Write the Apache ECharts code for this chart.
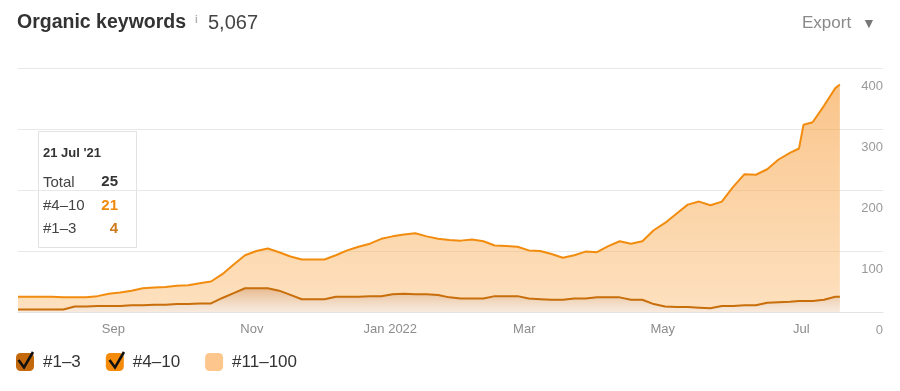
<!DOCTYPE html>
<html>
<head>
<meta charset="utf-8">
<script src="https://cdn.jsdelivr.net/npm/echarts@6/dist/echarts.min.js"></script>
<style>
html,body{margin:0;padding:0;background:#fff;}
#chart{width:900px;height:391px;}
</style>
</head>
<body>
<div id="chart"></div>
<script>
// ---- data ----
const dates = [
 '2021-07-21','2021-07-26','2021-07-31','2021-08-05','2021-08-10','2021-08-15','2021-08-20','2021-08-25','2021-08-30',
 '2021-09-04','2021-09-09','2021-09-14','2021-09-19','2021-09-24','2021-09-29','2021-10-04','2021-10-09','2021-10-14',
 '2021-10-19','2021-10-24','2021-10-29','2021-11-03','2021-11-08','2021-11-13','2021-11-18','2021-11-23','2021-11-28',
 '2021-12-03','2021-12-08','2021-12-13','2021-12-18','2021-12-23','2021-12-28','2022-01-02','2022-01-07','2022-01-12',
 '2022-01-17','2022-01-22','2022-01-27','2022-02-01','2022-02-06','2022-02-11','2022-02-16','2022-02-21','2022-02-26',
 '2022-03-03','2022-03-08','2022-03-13','2022-03-18','2022-03-23','2022-03-28','2022-04-02','2022-04-07','2022-04-12',
 '2022-04-17','2022-04-22','2022-04-27','2022-05-02','2022-05-07','2022-05-12','2022-05-17','2022-05-22','2022-05-27',
 '2022-06-01','2022-06-06','2022-06-11','2022-06-16','2022-06-21','2022-06-26','2022-06-30','2022-07-02','2022-07-06',
 '2022-07-11','2022-07-16','2022-07-18'
];
const pos1to3 = [
 4,4,4,4,4,9,9,10,10,
 10,11,11,12,12,13,13,14,14,
 23,31,39,39,39,35,28,21,21,
 21,25,25,25,26,26,29,30,29,
 29,28,24,22,22,22,26,26,26,
 22,21,20,20,22,22,24,24,24,
 20,20,13,9,8,8,7,6,10,
 10,11,11,15,16,17,18,18,18,
 20,25,25
];
const pos4to10 = [
 21,21,21,21,20,15,15,16,20,
 22,24,28,28,29,30,31,33,36,
 39,47,54,61,65,63,63,65,65,
 65,68,76,82,86,94,95,97,100,
 95,92,94,95,97,94,83,82,81,
 79,79,75,69,71,77,74,84,92,
 92,96,121,137,153,168,174,169,171,
 195,215,214,219,234,244,250,289,293,
 318,342,348
];
const pos11to100 = []; // switched off in the legend, not drawn
const seriesNames = ['#1–3', '#4–10', '#11–100'];
const tooltipDate = "21 Jul '21";
const headline = 'Organic keywords';
const headlineCount = '5,067';
const axisStart = '2021-07-21';
const axisEnd = '2022-08-06';
const yTicks = [0, 100, 200, 300, 400];
const monthNames = ['Jan','Feb','Mar','Apr','May','Jun','Jul','Aug','Sep','Oct','Nov','Dec'];

// ---- chart ----
const FONT = '"Liberation Sans", Arial, Helvetica, sans-serif';
const chart = echarts.init(document.getElementById('chart'), null, {renderer: 'canvas'});

function pairs(vals) { return vals.map((v, i) => [dates[i], v]); }

const total0 = pos1to3[0] + pos4to10[0];

const option = {
  animation: false,
  textStyle: {fontFamily: FONT},
  grid: {left: 18, right: 17, top: 68, bottom: 79},
  xAxis: {
    type: 'time',
    min: axisStart,
    max: axisEnd,
    splitNumber: 12,
    axisLine: {lineStyle: {color: '#e3e3e3', width: 1}},
    axisTick: {show: false},
    splitLine: {show: false},
    axisLabel: {
      color: '#8c8c8c', fontSize: 13, fontFamily: FONT, margin: 11,
      showMinLabel: false, showMaxLabel: false,
      formatter: function (val) {
        const d = new Date(val);
        if (d.getDate() !== 1) return '';
        const m = d.getMonth();
        if (m % 2 !== 0) return '';
        return m === 0 ? monthNames[m] + ' ' + d.getFullYear() : monthNames[m];
      }
    }
  },
  yAxis: {
    type: 'value',
    position: 'right',
    min: yTicks[0],
    max: yTicks[yTicks.length - 1],
    interval: 100,
    axisLine: {show: false},
    axisTick: {show: false},
    splitLine: {lineStyle: {color: '#e8e8e8', width: 1}},
    axisLabel: {
      inside: true, margin: 0, color: '#9a9a9a', fontSize: 13, fontFamily: FONT,
      verticalAlign: 'top', lineHeight: 15, padding: [11, 0, 0, 0]
    }
  },
  legend: {
    left: 16, top: 353, padding: 0,
    itemWidth: 18, itemHeight: 18, itemGap: 25,
    icon: 'roundRect',
    selectedMode: false,
    textStyle: {color: '#333', fontSize: 17, fontFamily: FONT, padding: [0, 0, 0, 4]},
    data: [
      {name: seriesNames[0], itemStyle: {color: '#c4690b', borderWidth: 0}},
      {name: seriesNames[1], itemStyle: {color: '#f58b0a', borderWidth: 0}},
      {name: seriesNames[2], itemStyle: {color: '#fdc68c', borderWidth: 0}}
    ]
  },
  series: [
    {
      name: seriesNames[0], type: 'line', stack: 'kw', symbol: 'none',
      data: pairs(pos1to3),
      lineStyle: {color: '#c86e0a', width: 2},
      itemStyle: {color: '#c86e0a'},
      areaStyle: {
        color: new echarts.graphic.LinearGradient(0, 0, 0, 1, [
          {offset: 0, color: 'rgba(205,112,22,0.68)'},
          {offset: 1, color: 'rgba(212,140,70,0.25)'}
        ])
      },
      z: 3
    },
    {
      name: seriesNames[1], type: 'line', stack: 'kw', symbol: 'none',
      data: pairs(pos4to10),
      lineStyle: {color: '#f28c0f', width: 2},
      itemStyle: {color: '#f28c0f'},
      areaStyle: {
        color: new echarts.graphic.LinearGradient(0, 0, 0, 1, [
          {offset: 0, color: 'rgba(246,156,58,0.85)'},
          {offset: 1, color: 'rgba(251,186,110,0.64)'}
        ])
      },
      z: 2
    },
    {
      name: seriesNames[2], type: 'line', symbol: 'none',
      data: pairs(pos11to100),
      itemStyle: {color: '#fdc68c'}
    }
  ],
  graphic: [
    {type: 'text', left: 17, top: 13, style: {text: headline, font: 'bold 19.5px ' + FONT, fill: '#333'}},
    {type: 'text', left: 195, top: 15, style: {text: 'i', font: 'bold 10px ' + FONT, fill: '#b0b0b0'}},
    {type: 'text', left: 208, top: 13, style: {text: headlineCount, font: '20px ' + FONT, fill: '#444'}},
    {type: 'text', left: 802, top: 15, style: {text: 'Export', font: '17px ' + FONT, fill: '#8a8a8a'}},
    {type: 'text', left: 862, top: 17, style: {text: '▼', font: '14px ' + FONT, fill: '#777'}},
    // checkmarks on the legend boxes
    {type: 'polyline', z: 100, shape: {points: [[18.5, 360], [24, 367.5], [33, 352]]}, style: {stroke: '#111', lineWidth: 2.6, fill: null, lineJoin: 'miter'}},
    {type: 'polyline', z: 100, shape: {points: [[109.5, 360], [115, 367.5], [124, 352]]}, style: {stroke: '#111', lineWidth: 2.6, fill: null, lineJoin: 'miter'}},
    // hover box for the first day
    {
      type: 'group', left: 38, top: 131, z: 100,
      children: [
        {type: 'rect', shape: {x: 0.5, y: 0.5, width: 98, height: 116}, style: {fill: '#fff', stroke: '#e2e2e2', lineWidth: 1}},
        {type: 'text', x: 5, y: 22, style: {text: tooltipDate, font: 'bold 13px ' + FONT, fill: '#333', verticalAlign: 'middle'}},
        {type: 'text', x: 5, y: 52, style: {text: 'Total', font: '15px ' + FONT, fill: '#444', verticalAlign: 'middle'}},
        {type: 'text', x: 80, y: 51, style: {text: String(total0), font: 'bold 15px ' + FONT, fill: '#333', align: 'right', verticalAlign: 'middle'}},
        {type: 'text', x: 5, y: 75, style: {text: seriesNames[1], font: '15px ' + FONT, fill: '#444', verticalAlign: 'middle'}},
        {type: 'text', x: 80, y: 75, style: {text: String(pos4to10[0]), font: 'bold 15px ' + FONT, fill: '#f08a0c', align: 'right', verticalAlign: 'middle'}},
        {type: 'text', x: 5, y: 98, style: {text: seriesNames[0], font: '15px ' + FONT, fill: '#444', verticalAlign: 'middle'}},
        {type: 'text', x: 80, y: 98, style: {text: String(pos1to3[0]), font: 'bold 15px ' + FONT, fill: '#cc7a1c', align: 'right', verticalAlign: 'middle'}}
      ]
    }
  ]
};
chart.setOption(option);
</script>
</body>
</html>
